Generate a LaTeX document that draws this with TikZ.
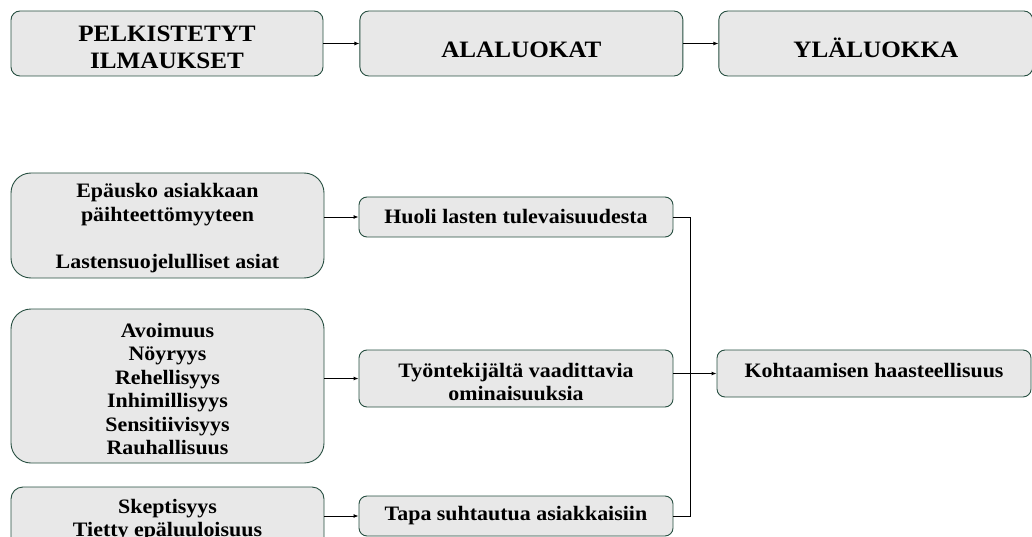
\documentclass[tikz,border=0pt]{standalone}
\usepackage{fontspec}
\setmainfont{Liberation Serif}[FakeStretch=1.07]
\usetikzlibrary{positioning,arrows.meta}
\definecolor{boxgray}{RGB}{232,232,232}
\definecolor{edgegreen}{RGB}{38,78,64}
\newcommand{\down}[1]{\rule{0pt}{#1}}
\newcommand{\up}[1]{\rule[-#1]{0pt}{#1}}
\begin{document}
\begin{tikzpicture}[x=1pt, y=-1pt, >={Latex[length=5pt,width=4pt]},
    main box/.style={rectangle, rounded corners=9pt, draw=edgegreen, fill=boxgray, line width=0.9pt, align=center, inner sep=0pt},
    head box/.style={main box, minimum height=65pt, font=\fontsize{23.5}{26.5}\selectfont\bfseries},
    code box/.style={main box, rounded corners=20pt, minimum width=313pt, font=\fontsize{20.5}{23.5}\selectfont\bfseries},
    cat box/.style={main box, minimum width=314pt, font=\fontsize{20.5}{23.5}\selectfont\bfseries}]
        \clip (0,0) rectangle (1032,537);

          % top row
          \node[head box, minimum width=312pt] (pelk) at (167,43.5) {\down{23pt}PELKISTETYT\\ILMAUKSET};
          \node[head box, minimum width=323pt] (ala) [right=36pt of pelk] {\down{29pt}ALALUOKAT};
          \node[head box, minimum width=314pt] (yla) [right=35pt of ala] {\down{29pt}YLÄLUOKKA};

          % reduced expressions
          \node[code box, minimum height=105pt] (epa) at (167.5,225.5) {\down{19pt}Epäusko asiakkaan\\päihteettömyyteen\\[23.5pt]Lastensuojelulliset asiat};
          \node[code box, minimum height=154pt] (omi) at (167.5,386) {\down{20pt}Avoimuus\\Nöyryys\\Rehellisyys\\Inhimillisyys\\Sensitiivisyys\\Rauhallisuus};
          \node[code box, rounded corners=12pt, minimum height=63pt] (skep) at (167.5,518.5) {\down{17pt}Skeptisyys\\Tietty epäluuloisuus};

          % subcategories and upper category
          \node[cat box, minimum height=40pt, rounded corners=8pt] (huoli) at (516,217) {Huoli lasten tulevaisuudesta};
          \node[cat box, minimum height=57pt, rounded corners=8pt] (tyon) at (516,378.5) {\down{21pt}Työntekijältä vaadittavia\\ominaisuuksia};
          \node[cat box, minimum height=40pt, rounded corners=8pt] (tapa) at (516,516) {Tapa suhtautua asiakkaisiin};
          \node[cat box, minimum height=47pt, rounded corners=8pt] (koht) at (874,373.5) {Kohtaamisen haasteellisuus\up{6pt}};

          \coordinate (vtop) at ([xshift=17pt]huoli.east);
          \coordinate (vbot) at (vtop |- tapa.east);

          \path[->, line width=0.9pt]
            (pelk) edge (ala)
            (ala) edge (yla)
            (epa.east |- huoli) edge (huoli)
            (omi.east |- tyon) edge (tyon)
            (skep.east |- tapa) edge (tapa)
            (tyon.east |- koht) edge (koht);
          \draw[line width=0.9pt] (huoli.east) -- (vtop) -- (vbot) -- (tapa.east);

        \end{tikzpicture}
\end{document}
